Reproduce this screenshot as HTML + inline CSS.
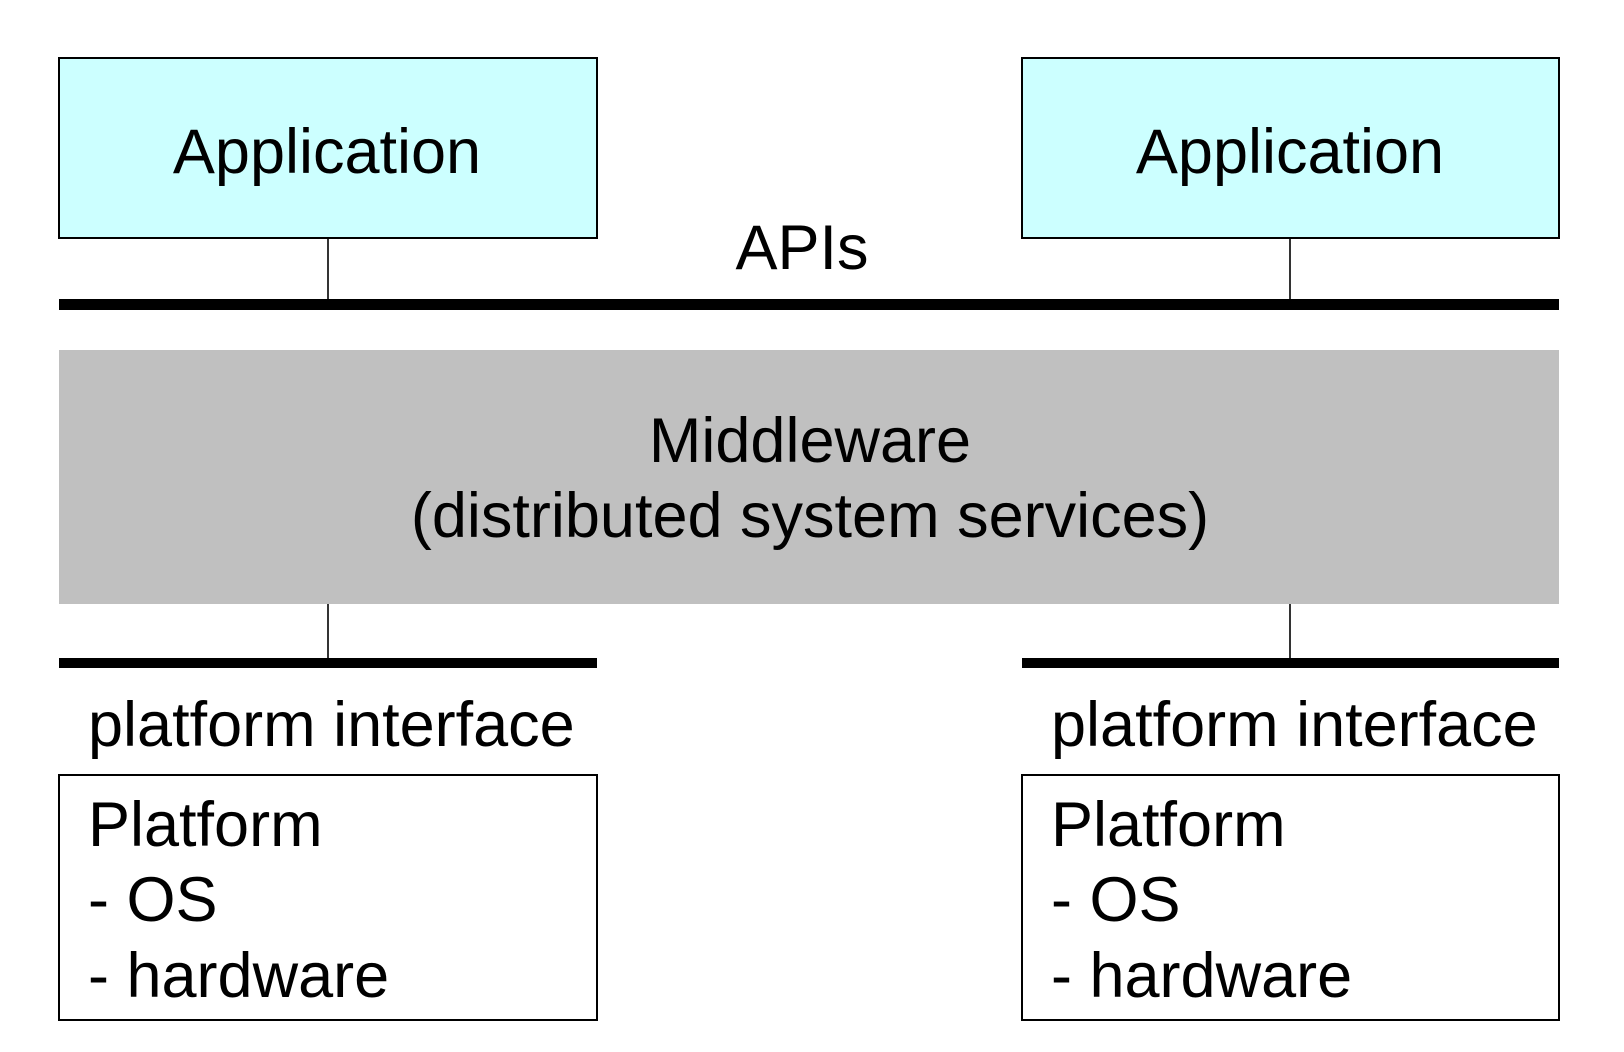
<!DOCTYPE html>
<html><head><style>
html,body{margin:0;padding:0;background:#fff;}
svg{display:block;}
text{font-family:"Liberation Sans",Arial,sans-serif;font-size:63px;fill:#000;}
</style></head><body>
<svg width="1624" height="1052" viewBox="0 0 1624 1052" xmlns="http://www.w3.org/2000/svg">
<rect x="0" y="0" width="1624" height="1052" fill="#fff"/>
<rect x="59" y="58" width="538" height="180" fill="#ccffff" stroke="#000" stroke-width="2"/>
<rect x="1022" y="58" width="537" height="180" fill="#ccffff" stroke="#000" stroke-width="2"/>
<text x="327" y="173" text-anchor="middle">Application</text>
<text x="1290" y="173" text-anchor="middle">Application</text>
<line x1="328" y1="238" x2="328" y2="300" stroke="#000" stroke-width="1.6"/>
<line x1="1290" y1="238" x2="1290" y2="300" stroke="#000" stroke-width="1.6"/>
<text x="802" y="269" text-anchor="middle">APIs</text>
<rect x="59" y="299" width="1500" height="11" fill="#000"/>
<rect x="59" y="350" width="1500" height="254" fill="#c0c0c0"/>
<text x="810" y="462" text-anchor="middle">Middleware</text>
<text x="810" y="537" text-anchor="middle">(distributed system services)</text>
<line x1="328" y1="604" x2="328" y2="658" stroke="#000" stroke-width="1.6"/>
<line x1="1290" y1="604" x2="1290" y2="658" stroke="#000" stroke-width="1.6"/>
<rect x="59" y="658" width="538" height="10" fill="#000"/>
<rect x="1022" y="658" width="537" height="10" fill="#000"/>
<text x="88" y="746">platform interface</text>
<text x="1051" y="746">platform interface</text>
<rect x="59" y="775" width="538" height="245" fill="#fff" stroke="#000" stroke-width="2"/>
<rect x="1022" y="775" width="537" height="245" fill="#fff" stroke="#000" stroke-width="2"/>
<text x="88" y="846">Platform</text>
<text x="88" y="921">- OS</text>
<text x="88" y="997">- hardware</text>
<text x="1051" y="846">Platform</text>
<text x="1051" y="921">- OS</text>
<text x="1051" y="997">- hardware</text>
</svg>
</body></html>
